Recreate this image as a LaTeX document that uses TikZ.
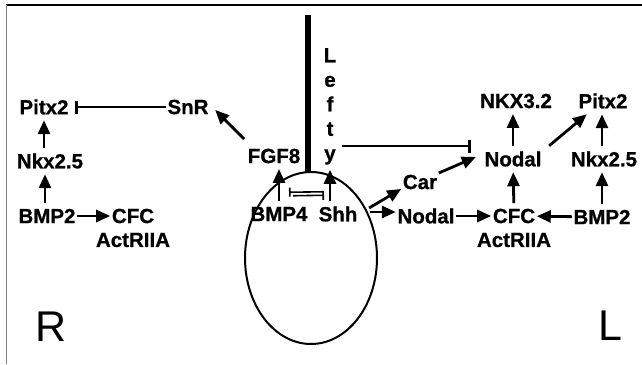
\documentclass[tikz,border=0pt]{standalone}
\usepackage{fontspec}
\setmainfont{Liberation Sans}[BoldFeatures={FakeBold=0.8}]
\usepackage{tikz}
\usetikzlibrary{arrows.meta,calc}

\begin{document}
\begin{tikzpicture}[x=1pt,y=-1pt,
    gene/.style={font=\bfseries\fontsize{20.5}{24.5}\selectfont,inner xsep=1.5pt,inner ysep=5.5pt},
    side/.style={font=\fontsize{43}{50}\selectfont,inner sep=0pt},
    act/.style={-{Triangle[length=14pt,width=12pt]},line width=2.8pt},
    inh/.style={-{Bar[width=13pt]},line width=2.8pt},
    minh/.style={-{Bar[width=9pt]},line width=1.6pt}]
                    \useasboundingbox (0,0) rectangle (642,364);
                    \draw[line width=2.4pt] (6,5) -- (642,5);
                    \draw[gray,line width=1.3pt] (6.5,5) -- (6.5,364);
                    \draw[line width=2pt] (311,258) ellipse [x radius=66pt,y radius=86pt];
                    \draw[line width=5.5pt] (308,15) -- (308,173);
                    \node[side] (sideR) at (51,327) {R};
                    \node[side] (sideL) at (610,326) {L};
                    \node[gene,anchor=north,align=center,inner ysep=5pt] (lefty) at (330,43) {L\\e\\f\\t\\y};
                    \node[gene] (rPitx) at (44,107) {Pitx2};
                    \node[gene] (snr) at (188,107) {SnR};
                    \node[gene] (rNkx) at (50,161) {Nkx2.5};
                    \node[gene] (rBMP) at (47,216) {BMP2};
                    \node[gene] (rCFC) at (133,216) {CFC};
                    \node[gene] (rAct) at (133,240) {ActRIIA};
                    \node[gene] (fgf) at (274,156) {FGF8};
                    \node[gene] (bmp4) at (279,214) {BMP4};
                    \node[gene] (shh) at (338,214) {Shh};
                    \node[gene] (car) at (420,182) {Car};
                    \node[gene] (nodal1) at (426,216) {Nodal};
                    \node[gene] (lNodal) at (513,159) {Nodal};
                    \node[gene] (lNkx32) at (516,101) {NKX3.2};
                    \node[gene] (lPitx) at (603,101) {Pitx2};
                    \node[gene] (lNkx) at (604,159) {Nkx2.5};
                    \node[gene] (lCFC) at (514,216) {CFC};
                    \node[gene] (lAct) at (514,240) {ActRIIA};
                    \node[gene] (lBMP) at (602,217) {BMP2};
                    \draw[inh] (snr.west) -- ([xshift=5pt]rPitx.east);
                    \draw[act] ([xshift=-2pt]rBMP.north) -- ([xshift=-5pt]rNkx.south);
                    \draw[act] ([xshift=-6pt]rNkx.north) -- (rPitx.south);
                    \draw[act] (rBMP) -- (rCFC);
                    \draw[act] ([xshift=-2pt,yshift=4pt]fgf.north west) -- ([xshift=5pt,yshift=10pt]snr.south east);
                    \draw[act] (bmp4.north) -- (bmp4.north |- fgf.south);
                    \draw[act] (shh.north -| lefty.south) -- (lefty.south);
                    \draw[minh] ($(shh.north)+(-15,-9)$) -- ($(bmp4.north)+(10,-9)$);
                    \draw[minh] ($(bmp4.north)+(14,-5.5)$) -- ($(shh.north)+(-14,-5.5)$);
                    \draw[inh] ($(lefty.east |- 0,146)+(4,0)$) -- ($(lNodal.west |- 0,146)+(-12,0)$);
                    \draw[act] ([xshift=10pt,yshift=6pt]shh.east) -- ([yshift=-7pt]car.west);
                    \draw[act] ([xshift=11pt,yshift=2pt]shh.east) -- ([yshift=4pt]nodal1.west);
                    \draw[act] ([yshift=9pt]car.east) -- ([xshift=-7pt,yshift=2pt]lNodal.west);
                    \draw[act] (nodal1) -- (lCFC);
                    \draw[act] (lBMP) -- (lCFC);
                    \draw[act] (lCFC) -- (lNodal);
                    \draw[act] (lNodal.north) -- (lNodal.north |- lNkx32.south);
                    \draw[act] ([xshift=6pt]lNodal.north east) -- ([xshift=10pt]lPitx.south west);
                    \draw[act] (lBMP.north) -- (lBMP.north |- lNkx.south);
                    \draw[act] (lNkx.north -| lBMP) -- (lPitx.south -| lBMP);
\end{tikzpicture}
\end{document}
